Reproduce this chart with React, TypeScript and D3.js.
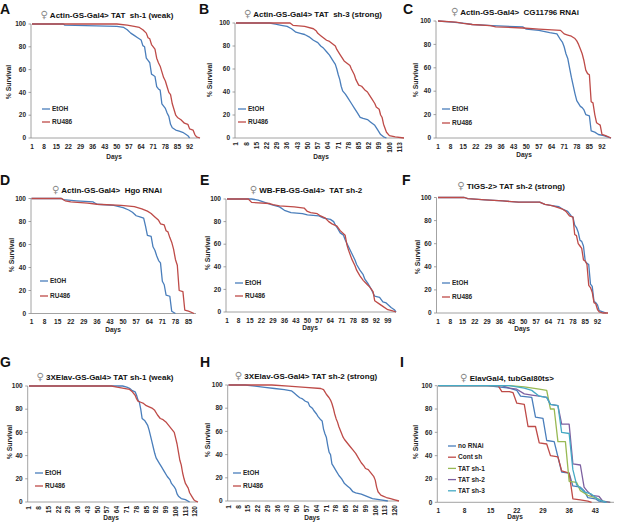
import React from "react";
import * as d3 from "d3";

type Pt = [number, number];

// ---------------- DATA ----------------
const A_EtOH: Pt[] = [[1,100],[19,100],[20,99],[50,98],[54,97],[56,95],[58,92],[60,90],[62,88],[64,86],[65,81],[66,80],[67,70],[68,68],[69,66],[70,56],[71,55],[72,54],[73,45],[74,43],[75,42],[76,30],[77,28],[78,26],[79,22],[80,19],[81,12],[82,9],[84,7],[86,6],[88,5],[90,3],[91,2],[92,0]];
const A_RU486: Pt[] = [[1,100],[50,100],[56,99],[60,98],[63,97],[65,95],[67,92],[68,88],[69,87],[70,82],[71,80],[72,78],[73,70],[74,66],[75,63],[76,58],[77,53],[78,50],[79,45],[80,40],[81,38],[82,30],[83,25],[84,20],[85,18],[87,16],[89,13],[91,12],[92,8],[94,7],[95,3],[96,1],[98,0]];

const B_EtOH: Pt[] = [[1,100],[24,100],[28,99],[32,98],[36,97],[39,95],[42,92],[45,91],[48,90],[51,88],[54,85],[57,83],[59,80],[61,78],[63,75],[65,72],[67,68],[69,64],[70,60],[71,55],[72,51],[73,45],[74,41],[76,38],[78,34],[80,30],[82,26],[84,22],[86,18],[88,17],[91,16],[93,14],[96,11],[98,7],[100,3],[102,1],[104,0]];
const B_RU486: Pt[] = [[1,100],[38,100],[40,98],[48,97],[54,95],[56,93],[57,91],[59,89],[61,87],[63,85],[65,84],[67,82],[69,80],[70,77],[72,73],[73,71],[75,67],[77,65],[79,63],[80,60],[82,55],[83,51],[85,46],[87,45],[89,42],[91,40],[92,38],[94,34],[96,30],[97,27],[99,25],[100,20],[101,18],[102,12],[104,5],[106,2],[110,1],[116,0]];

const C_EtOH: Pt[] = [[1,100],[9,99],[16,98],[20,97],[31,96],[48,95],[50,93],[57,92],[63,90],[67,89],[69,84],[70,82],[71,78],[72,72],[73,68],[74,60],[75,52],[76,45],[77,38],[78,32],[80,27],[81,26],[82,24],[83,20],[85,19],[86,6],[88,5],[90,3],[93,2],[95,1],[97,0]];
const C_RU486: Pt[] = [[1,100],[11,99],[15,98],[20,97],[30,96],[33,95],[48,94],[57,93],[69,92],[71,89],[73,88],[75,87],[77,85],[78,83],[79,80],[80,76],[81,72],[82,66],[83,58],[84,55],[85,54],[86,31],[87,30],[88,20],[89,13],[90,12],[91,11],[92,3],[94,2],[97,0]];

const D_EtOH: Pt[] = [[1,100],[17,100],[18,99],[25,98],[34,97],[36,95],[45,94],[50,92],[53,90],[55,88],[57,85],[59,84],[61,83],[62,76],[63,68],[65,67],[66,58],[67,55],[68,50],[69,46],[70,44],[71,28],[72,25],[73,16],[75,15],[76,2],[78,0]];
const D_RU486: Pt[] = [[1,100],[17,100],[19,98],[22,97],[31,96],[36,95],[49,94],[56,93],[60,91],[63,89],[65,87],[67,84],[69,81],[70,78],[72,77],[73,72],[74,71],[75,66],[76,62],[77,56],[78,47],[79,42],[80,20],[82,19],[83,3],[85,2],[88,0]];

const E_EtOH: Pt[] = [[1,100],[16,100],[20,99],[24,97],[28,95],[33,93],[36,90],[40,88],[47,87],[50,86],[57,85],[60,83],[64,82],[66,80],[67,77],[68,75],[70,70],[72,68],[73,64],[75,58],[77,52],[79,46],[80,42],[82,37],[84,33],[85,29],[87,25],[89,20],[91,14],[94,13],[96,9],[98,8],[101,4],[103,2],[104,0]];
const E_RU486: Pt[] = [[1,100],[14,100],[16,97],[27,96],[29,95],[33,94],[42,93],[48,92],[50,89],[52,88],[56,87],[58,85],[61,83],[63,80],[65,78],[68,76],[70,72],[73,68],[74,60],[75,55],[77,47],[79,41],[80,37],[82,32],[84,28],[86,25],[88,22],[90,18],[91,10],[94,7],[96,5],[99,2],[102,1],[104,0]];

const F_EtOH: Pt[] = [[1,100],[16,100],[18,99],[28,98],[38,97],[47,96],[59,96],[62,94],[66,93],[70,92],[72,90],[75,88],[77,84],[78,83],[79,76],[80,74],[81,70],[82,63],[83,62],[84,58],[85,45],[86,43],[87,42],[88,25],[89,23],[90,10],[91,9],[92,7],[93,2],[95,1],[97,0]];
const F_RU486: Pt[] = [[1,100],[16,100],[18,99],[28,98],[38,97],[47,96],[59,96],[62,94],[66,93],[70,91],[72,90],[74,88],[76,84],[78,83],[79,68],[80,67],[81,60],[82,58],[83,56],[84,46],[85,45],[86,42],[87,24],[88,22],[89,18],[90,9],[91,8],[92,3],[93,1],[95,0],[98,0]];

const G_EtOH: Pt[] = [[1,100],[68,100],[71,99],[73,98],[75,96],[77,95],[78,92],[79,88],[80,86],[81,80],[82,72],[84,70],[86,66],[87,62],[88,57],[89,52],[90,47],[91,42],[92,38],[94,34],[96,30],[98,26],[100,22],[102,19],[103,16],[105,13],[106,11],[107,7],[108,5],[110,3],[113,2],[116,0]];
const G_RU486: Pt[] = [[1,100],[60,100],[64,99],[69,98],[73,97],[75,95],[77,92],[78,89],[79,87],[81,86],[83,85],[85,83],[87,82],[89,81],[91,79],[93,75],[95,72],[97,71],[99,69],[101,66],[103,63],[105,60],[106,55],[107,50],[108,43],[109,36],[110,32],[111,25],[112,20],[113,16],[115,12],[116,8],[118,4],[119,2],[120,1],[122,0]];

const H_EtOH: Pt[] = [[1,100],[13,100],[20,99],[27,98],[34,97],[41,96],[46,95],[48,93],[50,91],[52,89],[54,88],[56,86],[58,85],[59,82],[61,80],[62,78],[64,75],[65,73],[67,70],[68,69],[69,62],[70,58],[71,55],[72,48],[73,42],[74,40],[75,32],[76,30],[78,26],[80,22],[82,19],[84,15],[86,13],[88,11],[90,8],[92,7],[96,6],[100,4],[104,2],[110,1],[115,0]];
const H_RU486: Pt[] = [[1,100],[32,100],[44,99],[56,98],[67,97],[69,96],[70,94],[71,92],[73,89],[74,87],[75,84],[76,80],[77,75],[78,71],[79,68],[80,64],[81,61],[82,58],[83,55],[84,53],[86,50],[88,47],[90,44],[92,41],[94,37],[96,33],[98,30],[99,28],[101,27],[103,24],[105,21],[106,18],[107,12],[108,8],[110,5],[112,4],[114,3],[117,2],[120,1],[123,0]];

const I_noRNAi: Pt[] = [[1,100],[14,100],[17,99],[20,98],[22,96],[23,91],[26,90],[27,73],[29,72],[30,53],[32,52],[34,26],[36,25],[37,14],[39,13],[40,10],[41,4],[43,3],[44,1],[46,0]];
const I_contSh: Pt[] = [[1,100],[17,100],[18,95],[20,95],[21,94],[22,85],[24,84],[25,65],[27,65],[28,51],[30,50],[31,40],[33,39],[34,27],[36,25],[37,3],[39,2],[41,1],[42,0]];
const I_sh1: Pt[] = [[1,100],[20,100],[24,99],[28,97],[30,96],[31,80],[32,80],[33,52],[35,52],[36,18],[38,17],[39,10],[41,6],[43,4],[45,1],[47,0]];
const I_sh2: Pt[] = [[1,100],[18,100],[20,98],[22,97],[24,93],[26,92],[28,91],[30,90],[31,84],[33,83],[34,67],[36,67],[37,33],[39,32],[40,13],[41,9],[42,6],[44,5],[45,1],[47,0]];
const I_sh3: Pt[] = [[1,100],[20,100],[22,99],[24,98],[26,96],[28,91],[30,90],[31,84],[33,83],[34,60],[36,59],[37,28],[38,15],[40,9],[42,7],[44,2],[46,0]];

const ticksA = [1, 8, 15, 22, 29, 36, 43, 50, 57, 64, 71, 78, 85, 92];
const ticksB = [1, 8, 15, 22, 29, 36, 43, 50, 57, 64, 71, 78, 85, 92, 99, 106, 113];
const ticksC = [1, 8, 15, 22, 29, 36, 43, 50, 57, 64, 71, 78, 85, 92];
const ticksD = [1, 8, 15, 22, 29, 36, 43, 50, 57, 64, 71, 78, 85];
const ticksE = [1, 8, 15, 22, 29, 36, 43, 50, 57, 64, 71, 78, 85, 92, 99];
const ticksF = [1, 8, 15, 22, 29, 36, 43, 50, 57, 64, 71, 78, 85, 92];
const ticksG = [1, 8, 15, 22, 29, 36, 43, 50, 57, 64, 71, 78, 85, 92, 99, 106, 113, 120];
const ticksH = [1, 8, 15, 22, 29, 36, 43, 50, 57, 64, 71, 78, 85, 92, 99, 106, 113, 120];
const ticksI = [1, 8, 15, 22, 29, 36, 43];
const yTicks = [0, 20, 40, 60, 80, 100];

const BLUE = "#4A7EBB";
const RED = "#BE4B48";
const GREEN = "#98B954";
const PURPLE = "#7D60A0";
const AQUA = "#46AAC5";

const ER = (e: Pt[], r: Pt[]) => [
  { name: "EtOH", color: BLUE, data: e },
  { name: "RU486", color: RED, data: r },
];

// ---------------- LAYOUT ----------------
const panels = [
  { letter: "A", lx: 0, ly: 14, title: "Actin-GS-Gal4> TAT  sh-1 (weak)", tx: 107, ty: 18, ax: 31, dx0: 32, dx1: 200, yTop: 24, yBot: 138, maxDay: 98, ticks: ticksA, rot: false, legX: 42, legY: 109, legDy: 13, daysX: 114, daysY: 159, survX: 9, survY: 82, series: ER(A_EtOH, A_RU486) },
  { letter: "B", lx: 199, ly: 14, title: "Actin-GS-Gal4> TAT  sh-3 (strong)", tx: 313, ty: 17, ax: 235, dx0: 236, dx1: 404, yTop: 23, yBot: 138, maxDay: 116, ticks: ticksB, rot: true, legX: 238, legY: 109, legDy: 13, daysX: 321, daysY: 158.5, survX: 210, survY: 80, series: ER(B_EtOH, B_RU486) },
  { letter: "C", lx: 403, ly: 14, title: "Actin-GS-Gal4>  CG11796 RNAi", tx: 515, ty: 15, ax: 436, dx0: 438, dx1: 611, yTop: 21, yBot: 138, maxDay: 97, ticks: ticksC, rot: false, legX: 442, legY: 109, legDy: 14, daysX: 524, daysY: 157, survX: 416, survY: 80, series: ER(C_EtOH, C_RU486) },
  { letter: "D", lx: 0, ly: 185, title: "Actin-GS-Gal4>  Hgo RNAi", tx: 107, ty: 192.5, ax: 31, dx0: 31.5, dx1: 196, yTop: 198.5, yBot: 313.5, maxDay: 89, ticks: ticksD, rot: false, legX: 40, legY: 281, legDy: 15, daysX: 113, daysY: 332, survX: 11.5, survY: 255, series: ER(D_EtOH, D_RU486) },
  { letter: "E", lx: 200, ly: 185, title: "WB-FB-GS-Gal4>  TAT sh-2", tx: 306, ty: 193, ax: 226, dx0: 227, dx1: 396, yTop: 199, yBot: 312, maxDay: 104, ticks: ticksE, rot: false, legX: 235, legY: 283, legDy: 13, daysX: 310, daysY: 329.5, survX: 208, survY: 253, series: ER(E_EtOH, E_RU486) },
  { letter: "F", lx: 402, ly: 185, title: "TIGS-2> TAT sh-2 (strong)", tx: 511, ty: 189, ax: 436.5, dx0: 438, dx1: 608, yTop: 197.5, yBot: 313, maxDay: 98, ticks: ticksF, rot: false, legX: 442, legY: 283, legDy: 14, daysX: 522, daysY: 331, survX: 418, survY: 257, series: ER(F_EtOH, F_RU486) },
  { letter: "G", lx: 0, ly: 367, title: "3XElav-GS-Gal4> TAT sh-1 (weak)", tx: 105, ty: 380, ax: 27.7, dx0: 29, dx1: 198, yTop: 386, yBot: 502, maxDay: 122, ticks: ticksG, rot: true, legX: 35, legY: 473, legDy: 13, daysX: 111, daysY: 519.5, survX: 9.3, survY: 442, series: ER(G_EtOH, G_RU486) },
  { letter: "H", lx: 200, ly: 367, title: "3XElav-GS-Gal4> TAT sh-2 (strong)", tx: 306, ty: 379, ax: 227.7, dx0: 228.5, dx1: 399, yTop: 385, yBot: 501, maxDay: 123, ticks: ticksH, rot: true, legX: 233, legY: 473, legDy: 13, daysX: 312, daysY: 519.5, survX: 208, survY: 440, series: ER(H_EtOH, H_RU486) },
  { letter: "I", lx: 400, ly: 367, title: "ElavGal4, tubGal80ts>", tx: 507, ty: 381, ax: 437.3, dx0: 438.3, dx1: 614, yTop: 385.7, yBot: 502.3, maxDay: 48, ticks: ticksI, rot: false, legX: 448, legY: 446, legDy: 11.2, daysX: 515, daysY: 518.5, survX: 416, survY: 442,
    series: [
      { name: "no RNAi", color: BLUE, data: I_noRNAi },
      { name: "Cont sh", color: RED, data: I_contSh },
      { name: "TAT sh-1", color: GREEN, data: I_sh1 },
      { name: "TAT sh-2", color: PURPLE, data: I_sh2 },
      { name: "TAT sh-3", color: AQUA, data: I_sh3 },
    ] },
];

const FONT = "'Liberation Sans', Arial, Helvetica, sans-serif";
const AXIS = "#8c8c8c";
const TXT = "#262626";

function Panel({ p }: { p: (typeof panels)[number] }) {
  const x = d3.scaleLinear().domain([1, p.maxDay]).range([p.dx0, p.dx1]);
  const y = d3.scaleLinear().domain([0, 100]).range([p.yBot, p.yTop]);
  const line = d3.line<Pt>().x((d) => x(d[0])).y((d) => y(d[1]));
  return (
    <g fontFamily={FONT} fontWeight="bold">
      <text x={p.lx} y={p.ly} fontSize={14} fill="#111">{p.letter}</text>
      <text x={p.tx} y={p.ty} fontSize={8} textAnchor="middle" fill="#111">
        <tspan fill="#8a8a8a" fontWeight="normal" fontSize={10} fontFamily="'DejaVu Sans', sans-serif">♀</tspan>
        <tspan style={{ whiteSpace: "pre" }}>{" " + p.title}</tspan>
      </text>
      {/* axes */}
      <line x1={p.ax} x2={p.ax} y1={p.yTop} y2={p.yBot} stroke={AXIS} strokeWidth={0.8} />
      <line x1={p.ax} x2={p.dx1} y1={p.yBot} y2={p.yBot} stroke={AXIS} strokeWidth={0.8} />
      {yTicks.map((t) => (
        <g key={t}>
          <line x1={p.ax - 2.5} x2={p.ax} y1={y(t)} y2={y(t)} stroke={AXIS} strokeWidth={0.8} />
          <text x={p.ax - 5} y={y(t)} dy="0.35em" fontSize={6.5} textAnchor="end" fill={TXT}>{t}</text>
        </g>
      ))}
      {p.ticks.map((t) =>
        p.rot ? (
          <text key={t} transform={`translate(${x(t)},${p.yBot + 4}) rotate(-90)`} dy="0.35em" fontSize={6.5} textAnchor="end" fill={TXT}>{t}</text>
        ) : (
          <text key={t} x={x(t)} y={p.yBot + 10.5} fontSize={6.5} textAnchor="middle" fill={TXT}>{t}</text>
        )
      )}
      <text x={p.daysX} y={p.daysY} fontSize={6.5} textAnchor="middle" fill={TXT}>Days</text>
      <text transform={`translate(${p.survX},${p.survY}) rotate(-90)`} dy="0.35em" fontSize={6.8} textAnchor="middle" fill={TXT}>% Survival</text>
      {/* series */}
      {p.series.map((s) => (
        <path key={s.name} d={line(s.data) || ""} fill="none" stroke={s.color} strokeWidth={1.3} strokeLinejoin="round" />
      ))}
      {/* legend */}
      {p.series.map((s, i) => (
        <g key={s.name}>
          <line x1={p.legX} x2={p.legX + 8} y1={p.legY + i * p.legDy} y2={p.legY + i * p.legDy} stroke={s.color} strokeWidth={1.3} />
          <text x={p.legX + 10} y={p.legY + i * p.legDy} dy="0.35em" fontSize={6.5} fill={TXT}>{s.name}</text>
        </g>
      ))}
    </g>
  );
}

export default function App() {
  return (
    <svg width={617} height={524} viewBox="0 0 617 524" style={{ position: "absolute", left: 0, top: 0, background: "#fff" }}>
      <rect width={617} height={524} fill="#fff" />
      {panels.map((p) => (
        <Panel key={p.letter} p={p} />
      ))}
    </svg>
  );
}
